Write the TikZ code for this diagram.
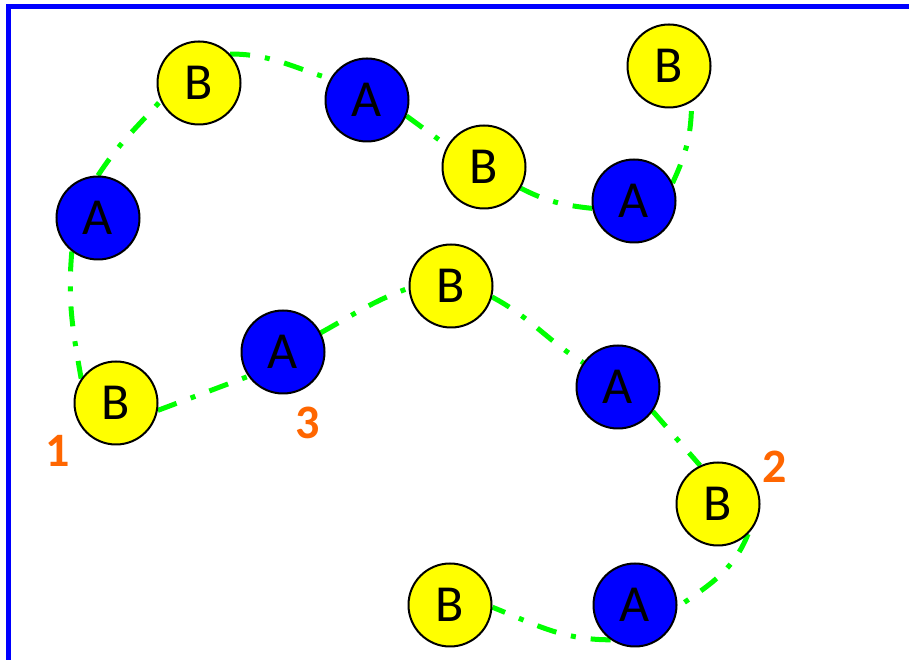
\documentclass[tikz,border=0pt]{standalone}
\usepackage{fontspec}
\setmainfont{Carlito}
\definecolor{ppblue}{RGB}{0,0,255}
\definecolor{ppyellow}{RGB}{255,255,0}
\definecolor{ppgreen}{RGB}{0,255,0}
\definecolor{pporange}{RGB}{255,102,0}
\pgfdeclarelayer{bg}
\pgfsetlayers{bg,main}
\tikzset{
  ballbase/.style={circle, draw=black, line width=2pt, minimum size=83pt, inner sep=0pt,
    font=\fontsize{52}{52}\selectfont},
  ballA/.style={ballbase, fill=ppblue},
  ballB/.style={ballbase, fill=ppyellow},
  link/.style={draw=ppgreen, line width=5pt, dash pattern=on 20pt off 15pt on 5pt off 15pt},
  num/.style={text=pporange, inner sep=0pt, font=\fontsize{48}{48}\selectfont\bfseries},
  frame/.style={draw=ppblue, line width=5pt}
}
\begin{document}
\begin{tikzpicture}[x=1pt,y=1pt]
\useasboundingbox (0,0) rectangle (909,660);
\coordinate (ftl) at (8.5,653.5);
\coordinate (ftr) at (909,653.5);
\coordinate (fbl) at (8.5,0);
\draw[frame] (fbl) -- (ftl) -- (ftr);

\node[ballA] (a1) at (98,442) {A};
\node[ballB] (b1) at (199,577) {B};
\node[ballA] (a2) at (367,560) {A};
\node[ballB] (b2) at (484,493) {B};
\node[ballA] (a3) at (634,459) {A};
\node[ballB] (b3) at (669,594) {B};
\node[ballB] (b4) at (116,257) {B};
\node[ballA] (a4) at (283,308) {A};
\node[ballB] (b5) at (451,374) {B};
\node[ballA] (a5) at (618,273) {A};
\node[ballB] (b6) at (718,156) {B};
\node[ballA] (a6) at (635,55) {A};
\node[ballB] (b7) at (450,55) {B};

\node[num] (n1) at (58,209) {1};
\node[num] (n3) at (308,237) {3};
\node[num] (n2) at (775,193) {2};

\begin{pgfonlayer}{bg}
\draw[link] (a1.232) to[out=265,in=100] (b4.145);
\draw[link] (a1.north) to[out=57,in=228] (b1.205);
\draw[link] (b1.43) to[out=0,in=163] (a2.150);
\draw[link] (a2.-22) -- (b2.150);
\draw[link] (b2.-30) to[out=-27,in=174] (a3.190);
\draw[link] (a3.25) to[out=65,in=-90] (b3.-58);
\draw[link] (b4.-10) -- (a4.215);
\draw[link] (a4.27) to[out=29,in=-160] (b5.183);
\draw[link] (b5.-15) to[out=-28,in=148] (a5.145);
\draw[link] (a5.-35) -- (b6.115);
\draw[link] (b6.-45) to[out=-112,in=35] (a6.-3);
\draw[link] (a6.235) to[out=180,in=-22] (b7.-3);
\end{pgfonlayer}
\end{tikzpicture}
\end{document}
